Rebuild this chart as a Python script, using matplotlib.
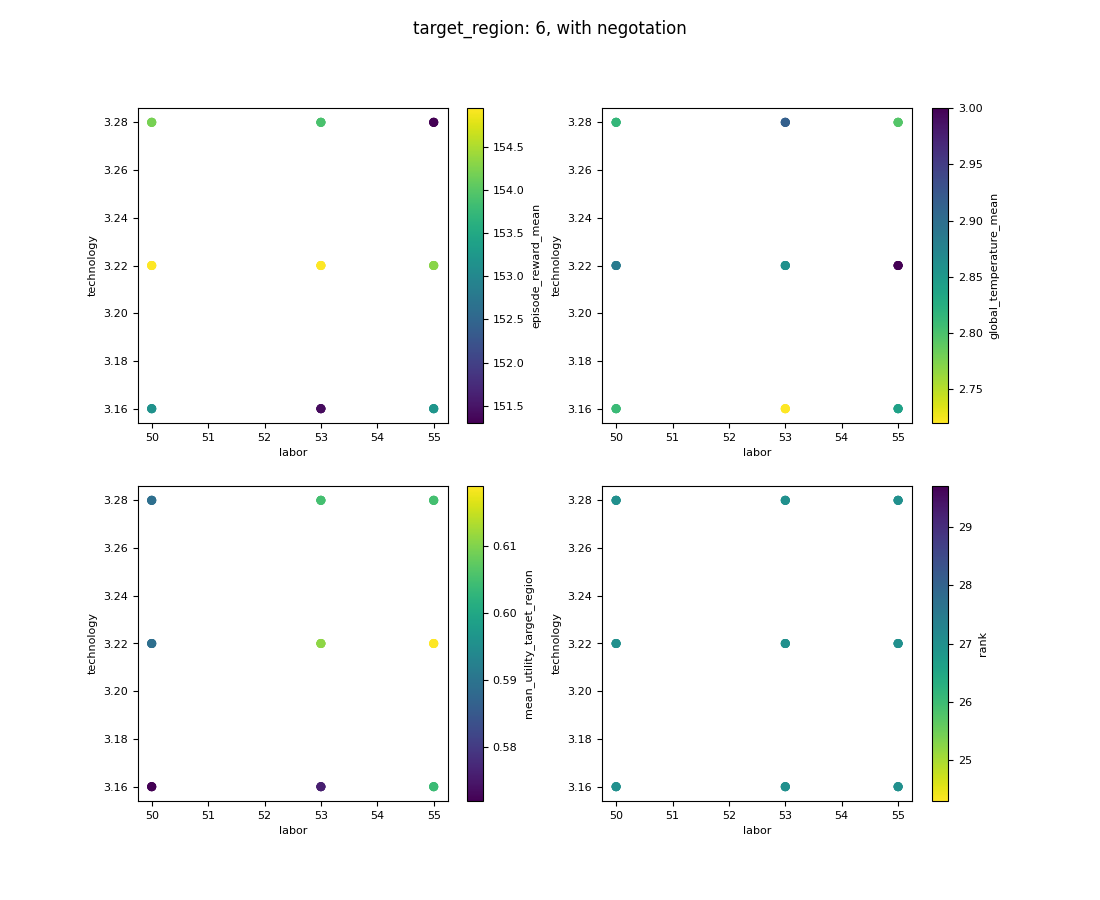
#!/usr/bin/python3
import matplotlib.pyplot as plt
import numpy as np

# several runs per grid point in the original, so each spot gets overplotted
n_runs = 3
labor = [50, 53, 55, 50, 53, 55, 50, 53, 55]
technology = [3.28, 3.28, 3.28, 3.22, 3.22, 3.22, 3.16, 3.16, 3.16]

episode_reward_mean = [154.2, 153.9, 151.3, 154.95, 154.95, 154.3, 153.15, 151.4, 153.2]
global_temperature_mean = [2.815, 2.915, 2.795, 2.885, 2.86, 3.0, 2.81, 2.72, 2.84]
mean_utility_target_region = [0.589, 0.605, 0.605, 0.589, 0.611, 0.619, 0.572, 0.576, 0.604]
rank = [27.0, 27.0, 27.0, 27.0, 27.0, 27.0, 27.0, 27.0, 27.0]

panels = [
    ("episode_reward_mean", episode_reward_mean, "viridis", (151.3, 154.95), [151.5, 152, 152.5, 153, 153.5, 154, 154.5], "%.1f"),
    ("global_temperature_mean", global_temperature_mean, "viridis_r", (2.72, 3.0), [2.75, 2.8, 2.85, 2.9, 2.95, 3.0], "%.2f"),
    ("mean_utility_target_region", mean_utility_target_region, "viridis", (0.572, 0.619), [0.58, 0.59, 0.60, 0.61], "%.2f"),
    ("rank", rank, "viridis_r", (24.3, 29.7), [25, 26, 27, 28, 29], "%d"),
]

# axes boxes in pixels, x0, y0, w, h
ax_boxes = [(137.6, 108, 310.2, 315), (602, 108, 310.2, 315), (137.6, 486, 310.2, 315), (602, 486, 310.2, 315)]
cax_boxes = [(467, 108, 16, 315), (932, 108, 16, 315), (467, 486, 16, 315), (932, 486, 16, 315)]
W, H = 1100, 900


def to_frac(box):
    x, y, w, h = box
    return [x / W, 1 - (y + h) / H, w / W, h / H]


plt.rcParams["font.size"] = 8
fig = plt.figure(figsize=(11, 9), dpi=100)
fig.suptitle("target_region: 6, with negotation", fontsize=12, y=0.9785)

for i, (name, values, cmap, lims, ticks, fmt) in enumerate(panels):
    ax = fig.add_axes(to_frac(ax_boxes[i]))
    for _ in range(n_runs):
        sc = ax.scatter(labor, technology, c=values, cmap=cmap, vmin=lims[0], vmax=lims[1], s=36, linewidths=0.5)
    ax.set_xlabel("labor")
    ax.set_ylabel("technology")
    ax.set_xticks(np.arange(50, 56))
    ax.set_yticks([3.16, 3.18, 3.20, 3.22, 3.24, 3.26, 3.28])
    ax.set_yticklabels(["3.16", "3.18", "3.20", "3.22", "3.24", "3.26", "3.28"])
    cax = fig.add_axes(to_frac(cax_boxes[i]))
    cb = fig.colorbar(sc, cax=cax, ticks=ticks, format=fmt)
    cb.set_label(name)

fig.savefig("out.png", dpi=100)
